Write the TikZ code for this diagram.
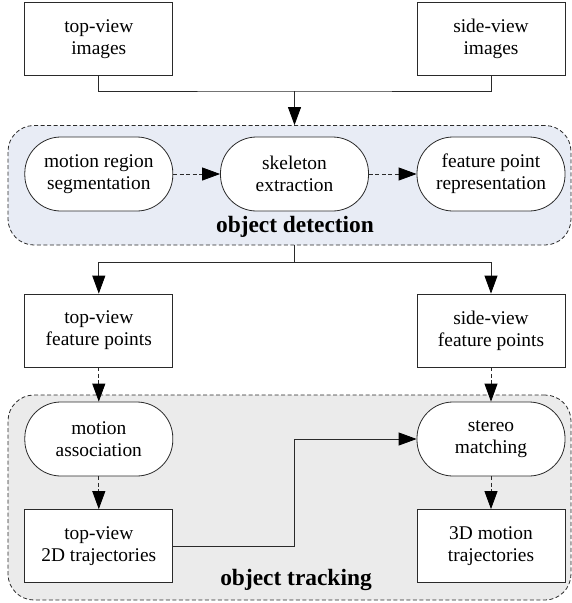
\documentclass[tikz,border=0pt]{standalone}
\usepackage{fontspec}
\setmainfont{Liberation Serif}
\usetikzlibrary{arrows.meta}
\definecolor{detfill}{HTML}{E8ECF5}
\definecolor{trkfill}{HTML}{EBEBEB}
\definecolor{linec}{HTML}{2A2A2A}
\begin{document}
\begin{tikzpicture}[x=1pt,y=-1pt,
  every node/.style={font=\fontsize{19.4}{22}\selectfont, align=center, inner sep=0pt},
  sqbox/.style={draw=linec, line width=0.8pt, fill=white, minimum width=148pt, minimum height=73pt},
  rndbox/.style={draw=linec, line width=0.8pt, fill=white, rounded corners=36pt, minimum width=148pt, minimum height=74pt},
  grp/.style={draw=linec, dash pattern=on 4pt off 2.5pt, line width=0.8pt, rounded corners=26pt},
  conn/.style={draw=linec, line width=0.8pt},
  arr/.style={conn, -{Triangle[length=18pt,width=13pt,color=black]}},
  darr/.style={arr, dash pattern=on 4pt off 2.5pt},
  grplabel/.style={font=\fontsize{23.4}{26}\selectfont\bfseries}
]
\useasboundingbox (0,0) rectangle (572,603);
% groups
\node[grp, fill=detfill, minimum width=563pt, minimum height=119.5pt] (g1) at (289.5,185.25) {};
\node[grp, fill=trkfill, minimum width=563pt, minimum height=205pt] (g2) at (289.5,497.5) {};
\node[grplabel] (l1) at (295,227) {object detection};
\node[grplabel] (l2) at (296,580) {object tracking};
% top boxes
\node[sqbox] (tvi) at (98.8,39) {top-view\\images};
\node[sqbox] (svi) at (491,39) {side-view\\images};
% detection row
\node[rndbox] (mrs) at (98.8,174) {motion region\\segmentation};
\node[rndbox] (ske) at (294.5,174) {skeleton\\extraction};
\node[rndbox] (fpr) at (491,174) {feature point\\representation};
% feature points
\node[sqbox] (tfp) at (98.8,330.5) {top-view\\feature points};
\node[sqbox] (sfp) at (491,330.5) {side-view\\feature points};
% tracking
\node[rndbox] (mas) at (98.8,439) {motion\\association};
\node[rndbox] (stm) at (491,439) {stereo\\matching};
\node[sqbox] (t2d) at (98.8,546) {top-view\\2D trajectories};
\node[sqbox] (t3d) at (491,546) {3D motion\\trajectories};
% connectors
\coordinate (j1) at (294.5,91);
\coordinate (j2) at (294.5,262);
\draw[conn] (tvi.south) |- (j1) -| (svi.south);
\draw[arr] (j1) -- (j1 |- g1.north);
\draw[darr] (mrs.east) -- (ske.west);
\draw[darr] (ske.east) -- (fpr.west);
\draw[conn] (j2 |- g1.south) -- (j2);
\draw[arr] (j2) -| (tfp.north);
\draw[arr] (j2) -| (sfp.north);
\draw[darr] (tfp.south) -- (mas.north);
\draw[darr] (sfp.south) -- (stm.north);
\draw[darr] (mas.south) -- (t2d.north);
\draw[darr] (stm.south) -- (t3d.north);
\draw[arr] (t2d.east) -| (j2 |- stm.west) -- (stm.west);
\end{tikzpicture}
\end{document}
